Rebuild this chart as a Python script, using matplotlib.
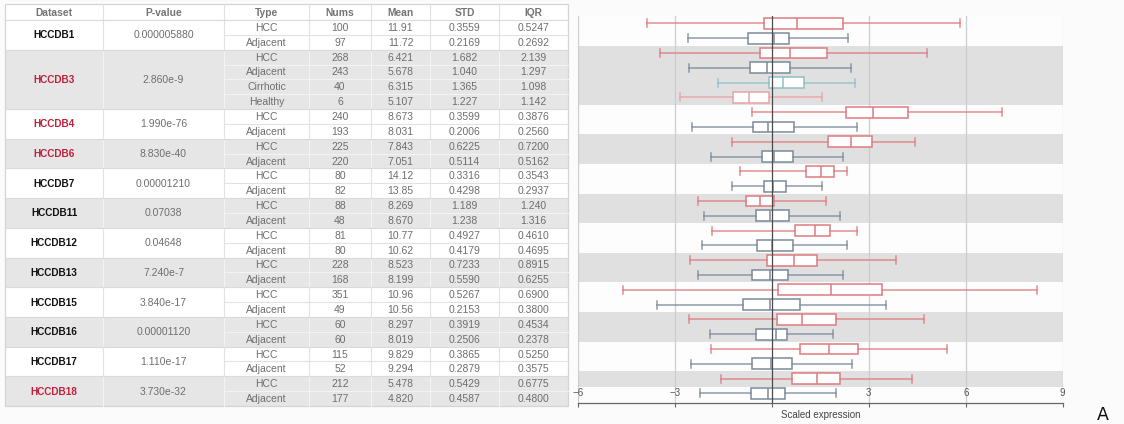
import matplotlib
matplotlib.use("Agg")
import matplotlib.pyplot as plt
from matplotlib.patches import Rectangle

plt.rcParams["font.family"] = ["Liberation Sans", "DejaVu Sans"]

# ---------------- table data ----------------
datasets = ["HCCDB1", "HCCDB3", "HCCDB4", "HCCDB6", "HCCDB7", "HCCDB11",
            "HCCDB12", "HCCDB13", "HCCDB15", "HCCDB16", "HCCDB17", "HCCDB18"]
pvalues = ["0.000005880", "2.860e-9", "1.990e-76", "8.830e-40", "0.00001210",
           "0.07038", "0.04648", "7.240e-7", "3.840e-17", "0.00001120",
           "1.110e-17", "3.730e-32"]
flagged = ["HCCDB3", "HCCDB4", "HCCDB6", "HCCDB18"]
types = [["HCC", "Adjacent"],
         ["HCC", "Adjacent", "Cirrhotic", "Healthy"],
         ["HCC", "Adjacent"], ["HCC", "Adjacent"], ["HCC", "Adjacent"],
         ["HCC", "Adjacent"], ["HCC", "Adjacent"], ["HCC", "Adjacent"],
         ["HCC", "Adjacent"], ["HCC", "Adjacent"], ["HCC", "Adjacent"],
         ["HCC", "Adjacent"]]
nums = ["100", "97", "268", "243", "40", "6", "240", "193", "225", "220",
        "80", "82", "88", "48", "81", "80", "228", "168", "351", "49",
        "60", "60", "115", "52", "212", "177"]
means = ["11.91", "11.72", "6.421", "5.678", "6.315", "5.107", "8.673", "8.031",
         "7.843", "7.051", "14.12", "13.85", "8.269", "8.670", "10.77", "10.62",
         "8.523", "8.199", "10.96", "10.56", "8.297", "8.019", "9.829", "9.294",
         "5.478", "4.820"]
stds = ["0.3559", "0.2169", "1.682", "1.040", "1.365", "1.227", "0.3599",
        "0.2006", "0.6225", "0.5114", "0.3316", "0.4298", "1.189", "1.238",
        "0.4927", "0.4179", "0.7233", "0.5590", "0.5267", "0.2153", "0.3919",
        "0.2506", "0.3865", "0.2879", "0.5429", "0.4587"]
iqrs = ["0.5247", "0.2692", "2.139", "1.297", "1.098", "1.142", "0.3876",
        "0.2560", "0.7200", "0.5162", "0.3543", "0.2937", "1.240", "1.316",
        "0.4610", "0.4695", "0.8915", "0.6255", "0.6900", "0.3800", "0.4534",
        "0.2378", "0.5250", "0.3575", "0.6775", "0.4800"]
headers = ["Dataset", "P-value", "Type", "Nums", "Mean", "STD", "IQR"]

# ---------------- box plot data (scaled expression) ----------------
whislo = [-3.86, -2.60, -3.46, -2.55, -1.67, -2.85, -0.61, -2.48,
          -1.22, -1.87, -1.00, -1.22, -2.30, -2.11, -1.84, -2.15,
          -2.52, -2.30, -4.61, -3.55, -2.56, -1.90, -1.87, -2.49,
          -1.58, -2.22]
q1 = [-0.24, -0.73, -0.36, -0.68, -0.08, -1.20, 2.28, -0.58,
      1.73, -0.32, 1.07, -0.23, -0.81, -0.50, 0.73, -0.47,
      -0.16, -0.60, 0.20, -0.90, 0.17, -0.48, 0.86, -0.63,
      0.63, -0.65]
med = [0.77, 0.06, 0.55, -0.14, 0.34, -0.70, 3.13, -0.13,
       2.44, 0.08, 1.51, 0.02, -0.38, -0.07, 1.32, -0.01,
       0.67, -0.07, 1.84, -0.06, 0.93, 0.14, 1.78, -0.03,
       1.41, -0.12]
q3 = [2.20, 0.52, 1.70, 0.57, 0.98, -0.09, 4.22, 0.70,
      3.09, 0.64, 1.91, 0.45, 0.08, 0.52, 1.81, 0.64,
      1.41, 0.49, 3.41, 0.86, 1.98, 0.48, 2.68, 0.62,
      2.11, 0.40]
whishi = [5.82, 2.37, 4.79, 2.46, 2.56, 1.55, 7.12, 2.62,
          4.42, 2.19, 2.31, 1.54, 1.66, 2.12, 2.62, 2.34,
          3.83, 2.19, 8.22, 3.52, 4.70, 1.89, 5.42, 2.48,
          4.33, 1.97]
xticks = [-6, -3, 0, 3, 6, 9]

type_colors = {"HCC": "#de7b7f", "Adjacent": "#7b8b9b",
               "Cirrhotic": "#8fc0c6", "Healthy": "#eaa2a4"}

W, H = 1124, 424
fig = plt.figure(figsize=(W / 100, H / 100), dpi=100, facecolor="#fbfbfb")

# ---------------- table ----------------
tab = fig.add_axes([0, 0, 1, 1])
tab.set_xlim(0, W)
tab.set_ylim(H, 0)
tab.axis("off")

cols = [5, 103, 224, 309, 371, 430, 499, 568]
head_top, head_bot = 4, 20
row_h = (406 - head_bot) / 26.0
grey_fill = "#e6e6e6"
txt_grey = "#6e6e6e"

tab.add_patch(Rectangle((cols[0], head_top), cols[-1] - cols[0], head_bot - head_top,
                        facecolor="white", edgecolor="none"))
for j, h in enumerate(headers):
    tab.text((cols[j] + cols[j + 1]) / 2, (head_top + head_bot) / 2 + 0.5, h,
             ha="center", va="center", fontsize=7.4, fontweight="bold", color="#747474")
for xc in cols[1:-1]:
    tab.plot([xc, xc], [head_top, head_bot], color="#e0e0e0", lw=0.8)

r = 0
for g, name in enumerate(datasets):
    n = len(types[g])
    y0 = head_bot + r * row_h
    y1 = y0 + n * row_h
    grey = g % 2 == 1
    fill = grey_fill if grey else "white"
    line_c = "#f3f3f3" if grey else "#e2e2e2"
    tab.add_patch(Rectangle((cols[0], y0), cols[-1] - cols[0], y1 - y0,
                            facecolor=fill, edgecolor="none"))
    tab.text((cols[0] + cols[1]) / 2, (y0 + y1) / 2 + 0.5, name, ha="center", va="center",
             fontsize=7.2, fontweight="bold",
             color="#c0203c" if name in flagged else "#111111")
    tab.text((cols[1] + cols[2]) / 2, (y0 + y1) / 2 + 0.5, pvalues[g], ha="center",
             va="center", fontsize=7.5, color=txt_grey)
    for k in range(n):
        ry = y0 + (k + 0.5) * row_h + 0.5
        vals = [types[g][k], nums[r + k], means[r + k], stds[r + k], iqrs[r + k]]
        for j, v in enumerate(vals):
            tab.text((cols[j + 2] + cols[j + 3]) / 2, ry, v, ha="center", va="center",
                     fontsize=7.5, color=txt_grey)
        if k > 0:
            yy = y0 + k * row_h
            tab.plot([cols[2], cols[-1]], [yy, yy], color=line_c, lw=0.8)
    for xc in cols[1:-1]:
        tab.plot([xc, xc], [y0, y1], color=line_c, lw=0.8)
    tab.plot([cols[0], cols[-1]], [y0, y0], color="#dadada", lw=0.8)
    r += n

tab.add_patch(Rectangle((cols[0], head_top), cols[-1] - cols[0], 406 - head_top,
                        facecolor="none", edgecolor="#d4d4d4", lw=0.9))

# ---------------- box plot ----------------
x0, x1 = 578, 1062.7
top, bot = 16, 402.7
ax = fig.add_axes([x0 / W, (H - bot) / H, (x1 - x0) / W, (bot - top) / H])
ax.set_facecolor("#fdfdfd")
ax.set_xlim(xticks[0], xticks[-1])
ymax = -0.5 + (bot - top) / 14.8
ax.set_ylim(ymax, -0.5)

row_types = [t for grp in types for t in grp]
nrows = len(row_types)

r = 0
for g, grp in enumerate(types):
    if g % 2 == 1:
        ax.axhspan(r - 0.5, r + len(grp) - 0.5, color="#e0e0e0", lw=0, zorder=0.2)
    r += len(grp)
ax.axhspan(24.55, ymax, color="#fdfdfd", lw=0, zorder=0.4)

for v in xticks:
    if v != 0:
        ax.axvline(v, color="#cdcdcd", lw=0.9, zorder=0.8)

# tick labels sit inside the plot, beneath the boxes
lab_y = -0.5 + (393 - top) / 14.8
for v in xticks:
    ax.text(v, lab_y, f"{v}".replace("-", "\u2212"), ha="center", va="center",
            fontsize=7, color="#555555", zorder=1)

stats = [dict(whislo=whislo[i], q1=q1[i], med=med[i], q3=q3[i], whishi=whishi[i])
         for i in range(nrows)]
bp = ax.bxp(stats, positions=list(range(nrows)), orientation="horizontal",
            widths=0.74, capwidths=0.55, showfliers=False, patch_artist=True,
            manage_ticks=False, zorder=2)
for i, t in enumerate(row_types):
    c = type_colors[t]
    bp["boxes"][i].set(facecolor="white", edgecolor=c, linewidth=1.1)
    bp["medians"][i].set(color=c, linewidth=1.1)
    for ln in bp["whiskers"][2 * i:2 * i + 2] + bp["caps"][2 * i:2 * i + 2]:
        ln.set(color=c, linewidth=1.1, alpha=0.85)

ax.axvline(0, color="#4a4a4a", lw=0.9, zorder=3)

for s in ["top", "left", "right"]:
    ax.spines[s].set_visible(False)
ax.spines["bottom"].set_color("#666666")
ax.spines["bottom"].set_linewidth(0.9)
ax.set_xticks(xticks)
ax.set_yticks([])
ax.tick_params(axis="x", direction="out", length=3, width=0.8, color="#666666",
               labelbottom=False)

fig.text((x0 + x1) / 2 / W, 1 - 415 / H, "Scaled expression", ha="center",
         va="center", fontsize=7, color="#444444")
fig.text(1103 / W, 1 - 415 / H, "A", ha="center", va="center", fontsize=12.5,
         family="DejaVu Sans", color="#111111")

fig.savefig("out.png", dpi=100, facecolor=fig.get_facecolor())
